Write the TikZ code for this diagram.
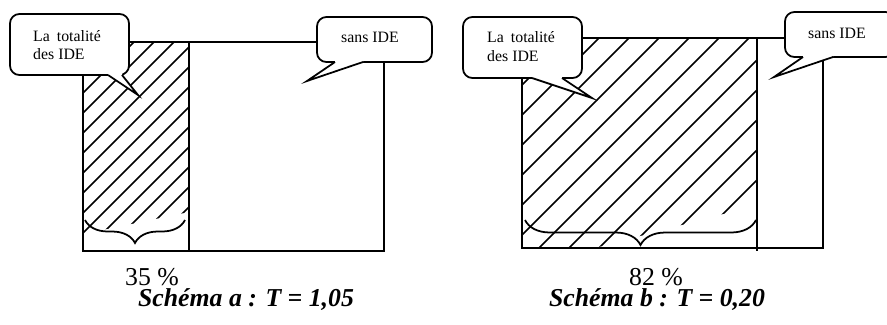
\documentclass[tikz,border=0pt]{standalone}
\usepackage{fontspec}
\setmainfont{Liberation Serif}
\usetikzlibrary{decorations.pathreplacing}
\tikzset{
	cadre/.style={line width=1.5pt},
	hachure/.style={line width=1.3pt},
	bulle/.style={draw, fill=white, rounded corners=8pt, line width=1.5pt, inner sep=0pt},
	pointe/.style={line width=1.5pt, line join=miter},
	texte/.style={font=\fontsize{13.5}{15.9}\selectfont, align=left, inner sep=0pt},
	pourcent/.style={font=\fontsize{22}{26}\selectfont, inner sep=0pt, anchor=base},
	legende/.style={font=\fontsize{22}{26}\selectfont\bfseries\itshape, inner sep=0pt, anchor=base},
	accolade/.style={line width=1.5pt, decorate, decoration={brace, mirror, amplitude=#1}}
}
\begin{document}
\begin{tikzpicture}[x=0.03cm, y=-0.03cm]
	\useasboundingbox (0,0) rectangle (887,324);
	% schema a
	\begin{scope}
		\clip (83,42) -- (189,42) -- (189,212) -- (83,234) -- cycle;
		\foreach \c in {136,156,...,416}
			\draw[hachure] ({\c-260},260) -- ({\c-20},20);
	\end{scope}
	\draw[cadre] (83,42) rectangle (384,251);
	\draw[cadre] (189,42) -- (189,251);
	\draw[accolade=0.69cm] (85,220) -- (185,220);
	\node[pourcent] (pctA) at (152,285) {35 \%};
	\node[legende] (legA) at (246,306) {Schéma a : T = 1,05};
	\node[bulle, minimum width=3.57cm, minimum height=1.83cm] (bulleA1) at (69.5,44.5) {};
	\fill[white] (108,73) -- (108,75) -- (138,95) -- (122,75) -- (122,73) -- cycle;
	\draw[pointe] (108,75) -- (138,95) -- (122,75);
	\node[texte, anchor=north west] (totalA) at (33,30) {La\hspace{6pt}totalité\\des IDE};
	\node[bulle, minimum width=3.45cm, minimum height=1.35cm] (bulleA2) at (374.5,39.5) {};
	\fill[white] (335,60) -- (335,62) -- (307,81) -- (363,62) -- (363,60) -- cycle;
	\draw[pointe] (335,62) -- (307,81) -- (363,62);
	\node[texte, anchor=base west] (sansA) at (341,42.5) {sans IDE};
	% schema b
	\begin{scope}
		\clip (522,38) -- (757,38) -- (757,205) -- (595,248) -- (522,248) -- cycle;
		\foreach \c in {577,607,...,997}
			\draw[hachure] ({\c-260},260) -- ({\c-20},20);
	\end{scope}
	\draw[cadre] (522,38) rectangle (823,248);
	\draw[cadre] (757,38) -- (757,251);
	\draw[accolade=0.75cm] (525,220) -- (756,220);
	\node[pourcent] (pctB) at (656,285) {82 \%};
	\node[legende] (legB) at (657,306) {Schéma b : T = 0,20};
	\node[bulle, minimum width=3.57cm, minimum height=1.83cm] (bulleB1) at (522.5,47.5) {};
	\fill[white] (532,76) -- (532,78) -- (592,98) -- (562,78) -- (562,76) -- cycle;
	\draw[pointe] (532,78) -- (592,98) -- (562,78);
	\node[texte, anchor=north west] (totalB) at (487,31.5) {La\hspace{6pt}totalité\\des IDE};
	\node[bulle, minimum width=3.3cm, minimum height=1.35cm] (bulleB2) at (840,34.5) {};
	\fill[white] (803,55) -- (803,57) -- (774,77) -- (833,57) -- (833,55) -- cycle;
	\draw[pointe] (803,57) -- (774,77) -- (833,57);
	\node[texte, anchor=base west] (sansB) at (808,38.3) {sans IDE};
\end{tikzpicture}
\end{document}
